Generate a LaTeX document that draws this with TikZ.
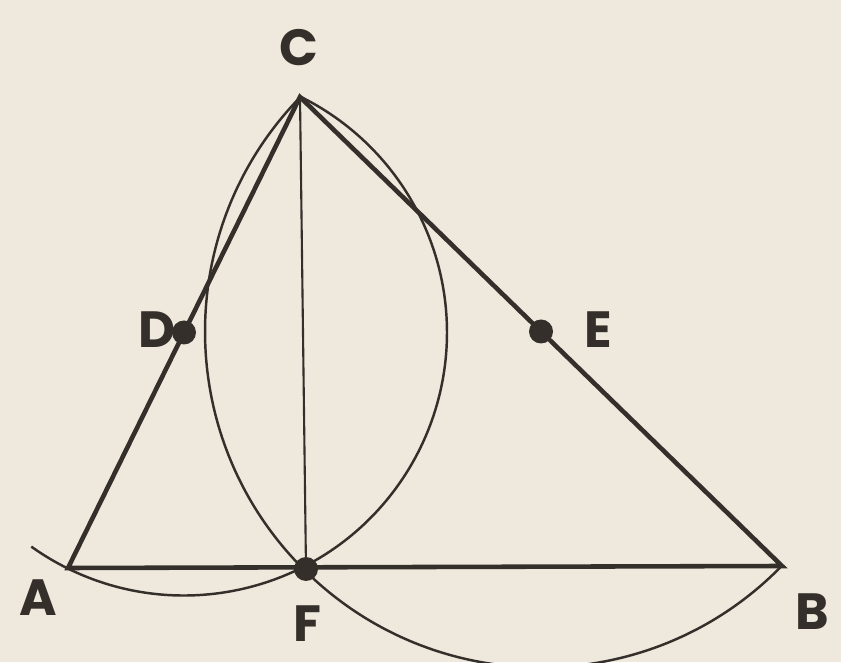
\documentclass[tikz,border=0pt]{standalone}
\usepackage{fontspec}
\setmainfont{Poppins}
\usetikzlibrary{calc,positioning}
\definecolor{paper}{RGB}{238,233,220}
\definecolor{ink}{RGB}{52,47,42}
\begin{document}
\begin{tikzpicture}[x=0.02cm,y=0.02cm,
every node/.style={font=\fontsize{29}{34}\selectfont\bfseries,text=ink},
pt/.style={circle,fill=ink,inner sep=0pt,minimum size=0.48cm}]
\fill[paper] (0,0) rectangle (841,662);
\useasboundingbox (0,0) rectangle (841,662);
\coordinate (A) at (68,94);
\coordinate (B) at (782,96);
\coordinate (C) at (300,565);
\coordinate (F) at (306,93);
\coordinate (D) at ($(A)!0.5!(C)$);
\coordinate (E) at ($(C)!0.5!(B)$);
% the two circles through F
\draw[ink,line width=1.4pt] ([shift={(234.5:263)}]D) arc[start angle=234.5,end angle=423.5,radius=263];
\draw[ink,line width=1.4pt] ([shift={(135.5:336)}]E) arc[start angle=135.5,end angle=315.5,radius=336];
% triangle and altitude
\draw[ink,line width=2.6pt,line join=miter] (A)--(C)--(B)--cycle;
\draw[ink,line width=1.2pt] (C)--(F);
\node[pt] (dD) at (D) {};
\node[pt] (dE) at (E) {};
\node[pt] (dF) at (F) {};
\node (lC) at (299,614) {C};
\node (lD) at (157,332) {D};
\node (lE) at (598,332) {E};
\node (lA) at (38,64) {A};
\node (lF) at (307,38) {F};
\node (lB) at (812,50) {B};
\end{tikzpicture}
\end{document}
